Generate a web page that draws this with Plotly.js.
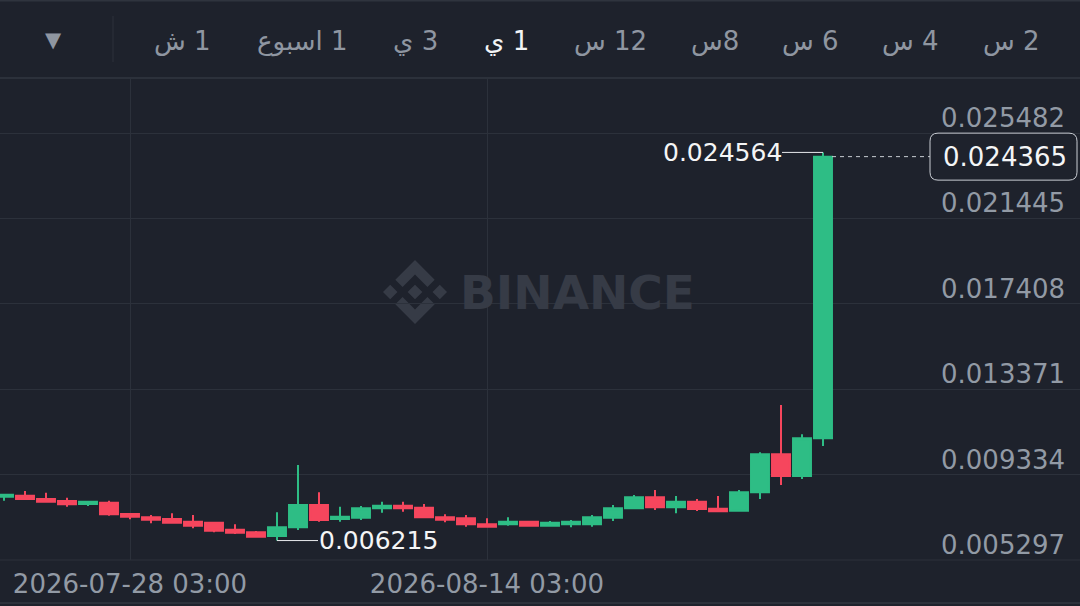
<!DOCTYPE html>
<html><head><meta charset="utf-8">
<script src="https://cdn.plot.ly/plotly-3.0.1.min.js"></script>
<style>html,body{margin:0;padding:0;background:#1e222c;overflow:hidden}#chart{width:1080px;height:606px}</style>
</head><body><div id="chart"></div>
<script>
// ---- data ----
const dates = [
 '2026-07-22 03:00','2026-07-23 03:00','2026-07-24 03:00','2026-07-25 03:00','2026-07-26 03:00',
 '2026-07-27 03:00','2026-07-28 03:00','2026-07-29 03:00','2026-07-30 03:00','2026-07-31 03:00',
 '2026-08-01 03:00','2026-08-02 03:00','2026-08-03 03:00','2026-08-04 03:00','2026-08-05 03:00',
 '2026-08-06 03:00','2026-08-07 03:00','2026-08-08 03:00','2026-08-09 03:00','2026-08-10 03:00',
 '2026-08-11 03:00','2026-08-12 03:00','2026-08-13 03:00','2026-08-14 03:00','2026-08-15 03:00',
 '2026-08-16 03:00','2026-08-17 03:00','2026-08-18 03:00','2026-08-19 03:00','2026-08-20 03:00',
 '2026-08-21 03:00','2026-08-22 03:00','2026-08-23 03:00','2026-08-24 03:00','2026-08-25 03:00',
 '2026-08-26 03:00','2026-08-27 03:00','2026-08-28 03:00','2026-08-29 03:00','2026-08-30 03:00'];
const opens = [0.008290,0.008337,0.008181,0.008087,0.007945,0.008006,0.007472,0.007316,0.007236,0.007108,
 0.007061,0.006730,0.006607,0.006432,0.006843,0.007898,0.007236,0.007297,0.007741,0.007864,
 0.007770,0.007316,0.007269,0.006985,0.006985,0.007108,0.006919,0.006985,0.006985,0.007297,
 0.007741,0.008262,0.007789,0.008053,0.007723,0.007628,0.008498,0.010294,0.009268,0.011050];
const highs = [0.008400,0.008559,0.008479,0.008243,0.008070,0.008101,0.007480,0.007425,0.007505,0.007425,
 0.007080,0.006985,0.006669,0.007552,0.009788,0.008498,0.007817,0.007850,0.008053,0.008053,
 0.007945,0.007458,0.007425,0.007269,0.007316,0.007155,0.007141,0.007189,0.007425,0.007898,
 0.008370,0.008607,0.008323,0.008181,0.008323,0.008607,0.010389,0.012625,0.011240,0.024564];
const lows = [0.008101,0.008150,0.008006,0.007817,0.007850,0.007392,0.007221,0.007033,0.007040,0.006796,
 0.006607,0.006527,0.006352,0.006215,0.006716,0.007108,0.007108,0.007189,0.007534,0.007581,
 0.007269,0.007080,0.006872,0.006824,0.006919,0.006900,0.006900,0.006843,0.006872,0.007141,
 0.007694,0.007661,0.007505,0.007614,0.007552,0.007581,0.008181,0.008843,0.009127,0.010686];
const closes = [0.008384,0.008181,0.008053,0.007930,0.008053,0.007458,0.007344,0.007203,0.007061,0.006919,
 0.006683,0.006588,0.006399,0.006843,0.007898,0.007189,0.007344,0.007741,0.007864,0.007741,
 0.007316,0.007203,0.006985,0.006872,0.007108,0.006919,0.007061,0.007108,0.007316,0.007741,
 0.008262,0.007789,0.008053,0.007708,0.007600,0.008498,0.010294,0.009268,0.011050,0.024365];
const yTickVals = [0.005297,0.009334,0.013371,0.017408,0.021445,0.025482];
const yTickText = ['0.005297','0.009334','0.013371','0.017408','0.021445','0.025482'];
const xTickVals = ['2026-07-28 03:00','2026-08-14 03:00'];
const xTickText = ['2026-07-28 03:00','2026-08-14 03:00'];
const intervals = ['2 س','4 س','6 س','8س','12 س','1 ي','3 ي','1 اسبوع','1 ش'];
const activeInterval = '1 ي';

// ---- layout helpers ----
const W = 1080, H = 606, T = 78, B = 46;
const plotH = H - T - B;
const yMin = 0.005296, yMax = 0.028082;
const px2paperX = p => p / W;
const px2paperY = p => (H - B - p) / plotH;
const val2paperY = v => (v - yMin) / (yMax - yMin);

const BG = '#1e222c', GRID = '#2c313b', GREEN = '#2ebd85', RED = '#f6465d';
const FONT = 'DejaVu Sans, sans-serif';
const AXIS_TEXT = '#929aa5';

const trace = {
  type: 'candlestick', x: dates, open: opens, high: highs, low: lows, close: closes,
  increasing: {line: {color: GREEN, width: 2}, fillcolor: GREEN},
  decreasing: {line: {color: RED, width: 2}, fillcolor: RED},
  whiskerwidth: 0, hoverinfo: 'skip', showlegend: false
};

// extremes
let hiIdx = 0, loIdx = 0;
highs.forEach((v,i)=>{ if (v > highs[hiIdx]) hiIdx = i; });
lows.forEach((v,i)=>{ if (v < lows[loIdx]) loIdx = i; });
const last = closes.length - 1;

const tabX = [1011, 910, 810, 715, 610, 506, 415, 302, 182];
const annotations = intervals.map((t,i)=>({
  xref:'paper', yref:'paper', x: px2paperX(tabX[i]), y: px2paperY(41),
  text: '\u200F' + t, showarrow:false, xanchor:'center', yanchor:'middle',
  font:{family:FONT, size:26, color: t===activeInterval ? '#f3f4f6' : '#8f96a1'}
}));
annotations.push({xref:'paper', yref:'paper', x: px2paperX(53), y: px2paperY(40), text:'▼', showarrow:false,
  xanchor:'center', yanchor:'middle', font:{family:FONT, size:21, color:'#8f96a1'}});
// y-axis price labels (sit just above their grid lines, inside the plot)
yTickVals.forEach((v,i)=>annotations.push({xref:'paper', yref:'y', x: px2paperX(1067), y: v, yshift: 15,
  text: yTickText[i], showarrow:false, xanchor:'right', yanchor:'middle',
  font:{family:FONT, size:26, color:AXIS_TEXT}}));
// watermark
annotations.push({xref:'paper', yref:'paper', x: px2paperX(577), y: px2paperY(292), text:'BINANCE', showarrow:false,
  xanchor:'center', yanchor:'middle', font:{family:'DejaVu Sans, sans-serif', size:47, color:'#363b46', weight:'bold'}});
// high / low labels
annotations.push({x: dates[hiIdx], y: highs[hiIdx], text: highs[hiIdx].toFixed(6), showarrow:true, arrowhead:0,
  arrowwidth:1, arrowcolor:'#e8eaed', ax:-101, ay:0, font:{family:FONT, size:25, color:'#f4f5f6'}, borderpad:0});
annotations.push({x: dates[loIdx], y: lows[loIdx], text: lows[loIdx].toFixed(6), showarrow:true, arrowhead:0,
  arrowwidth:1, arrowcolor:'#e8eaed', ax:101, ay:0, font:{family:FONT, size:25, color:'#f4f5f6'}, borderpad:0});
// current price label
annotations.push({xref:'paper', yref:'y', x: px2paperX(1005), y: closes[last], text: closes[last].toFixed(6),
  showarrow:false, xanchor:'center', yanchor:'middle', font:{family:FONT, size:26, color:'#f4f5f6'}});

// rounded box around current price
const cy = val2paperY(closes[last]);
const bx0 = px2paperX(930), bx1 = px2paperX(1077);
const by0 = cy - 23.5/plotH, by1 = cy + 23.5/plotH;
const rx = 8/W, ry = 8/plotH;
const boxPath = `M ${bx0+rx},${by1} L ${bx1-rx},${by1} Q ${bx1},${by1} ${bx1},${by1-ry} L ${bx1},${by0+ry} Q ${bx1},${by0} ${bx1-rx},${by0} L ${bx0+rx},${by0} Q ${bx0},${by0} ${bx0},${by0+ry} L ${bx0},${by1-ry} Q ${bx0},${by1} ${bx0+rx},${by1} Z`;

const shapes = [
  {type:'line', xref:'paper', yref:'paper', x0:0, x1:1, y0:px2paperY(0.5), y1:px2paperY(0.5), line:{color:'#2f343e', width:2}},
  {type:'line', xref:'paper', yref:'paper', x0:0, x1:1, y0:1, y1:1, line:{color:GRID, width:2}},
  {type:'line', xref:'paper', yref:'paper', x0:px2paperX(113), x1:px2paperX(113), y0:px2paperY(16), y1:px2paperY(62), line:{color:GRID, width:1}},
  {type:'line', xref:'paper', yref:'paper', x0:0, x1:1, y0:px2paperY(603), y1:px2paperY(603), line:{color:GRID, width:2}},
  {type:'line', xref:'paper', yref:'paper', x0:0, x1:1, y0:0, y1:0, line:{color:GRID, width:1}},
  {type:'line', xref:'paper', yref:'y', x0:px2paperX(832), x1:bx0, y0:closes[last], y1:closes[last], line:{color:'#c9cdd3', width:1, dash:'4px,4px'}},
  {type:'path', xref:'paper', yref:'paper', path: boxPath, fillcolor: BG, line:{color:'#c9cdd3', width:1}}
];

const logoSvg = `<svg xmlns="http://www.w3.org/2000/svg" viewBox="0 0 126.61 126.61"><path fill="#363b46" d="M38.73 53.2l24.59-24.58 24.6 24.6 14.3-14.31L63.32 0 24.42 38.9zM0 63.31l14.3-14.31 14.31 14.31-14.31 14.3zM38.73 73.41l24.59 24.59 24.6-24.6 14.31 14.29-38.9 38.91-38.91-38.88zM98 63.31l14.3-14.31 14.31 14.3-14.31 14.32zM77.83 63.3L63.32 48.78 52.59 59.51l-1.24 1.23-2.54 2.54 14.51 14.5 14.51-14.47z"/></svg>`;

const layout = {
  width: W, height: H, paper_bgcolor: BG, plot_bgcolor: BG,
  margin: {l:0, r:0, t:T, b:B, pad:0},
  boxgap: 0.1, boxgroupgap: 0.05,
  showlegend: false, dragmode: false,
  xaxis: {type:'date', range:['2026-07-21 22:26','2026-09-11 08:43'], rangeslider:{visible:false},
    tickvals: xTickVals, ticktext: xTickText, showgrid:true, gridcolor:GRID, gridwidth:1,
    zeroline:false, showline:false, ticks:'', ticklabelstandoff:6,
    tickfont:{family:FONT, size:26, color:AXIS_TEXT}, fixedrange:true},
  yaxis: {range:[yMin, yMax], side:'right', tickvals: yTickVals, ticktext: yTickText,
    showgrid:true, gridcolor:GRID, gridwidth:1, zeroline:false, showline:false, ticks:'',
    showticklabels:false, fixedrange:true},
  annotations, shapes,
  images: [{source: 'data:image/svg+xml;utf8,' + encodeURIComponent(logoSvg), xref:'paper', yref:'paper',
    x: px2paperX(383), y: px2paperY(260), sizex: 64/W, sizey: 64/plotH, xanchor:'left', yanchor:'top',
    sizing:'contain', layer:'below'}]
};

Plotly.newPlot('chart', [trace], layout, {displayModeBar:false, staticPlot:true});
</script></body></html>
